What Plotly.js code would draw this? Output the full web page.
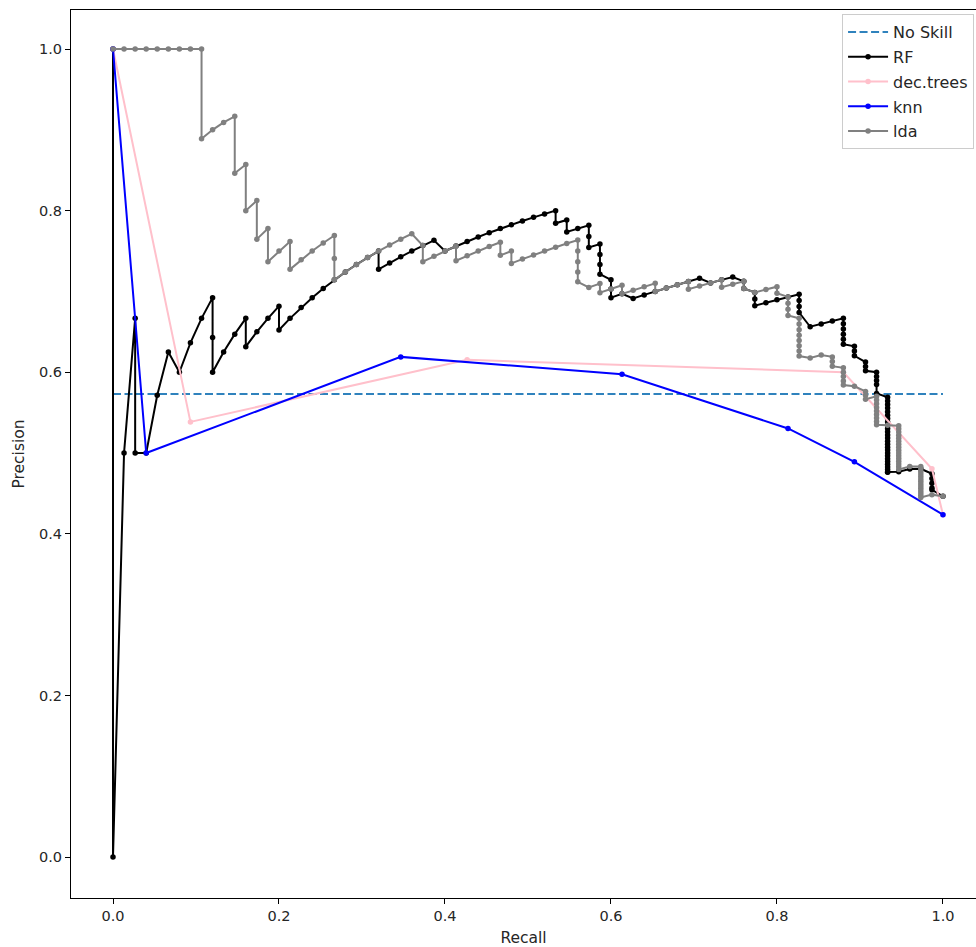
<!DOCTYPE html>
<html>
<head>
<meta charset="utf-8">
<script src="https://cdn.plot.ly/plotly-3.0.1.min.js"></script>
<style>html,body{margin:0;padding:0;background:#fff;}#chart{width:976px;height:947px;}</style>
</head>
<body>
<div id="chart"></div>
<script>
// ---- data ----
const noSkillRecall = [0, 1];
const noSkillPrecision = [0.573, 0.573];

const rfRecall = [0,0,0.0133,0.0267,0.0267,0.04,0.0533,0.0667,0.08,0.0933,0.1067,0.12,0.12,0.12,0.1333,0.1467,0.16,0.16,0.1733,0.1867,0.2,0.2,0.2133,0.2267,0.24,0.2533,0.2667,0.28,0.2933,0.3067,0.32,0.32,0.3333,0.3467,0.36,0.3733,0.3867,0.4,0.4133,0.4267,0.44,0.4533,0.4667,0.48,0.4933,0.5067,0.52,0.5333,0.5333,0.5467,0.5467,0.56,0.5733,0.5733,0.5733,0.5867,0.5867,0.5867,0.5867,0.6,0.6,0.6,0.6133,0.6267,0.64,0.6533,0.6667,0.68,0.6933,0.7067,0.72,0.7333,0.7467,0.76,0.76,0.7733,0.7733,0.7733,0.7867,0.8,0.8133,0.8267,0.8267,0.8267,0.8267,0.84,0.8533,0.8667,0.88,0.88,0.88,0.88,0.88,0.88,0.8933,0.8933,0.8933,0.9067,0.9067,0.9067,0.92,0.92,0.92,0.92,0.92,0.9333,0.9333,0.9333,0.9333,0.9333,0.9333,0.9333,0.9333,0.9333,0.9333,0.9333,0.9333,0.9333,0.9333,0.9333,0.9333,0.9333,0.9333,0.9333,0.9333,0.9333,0.9333,0.9333,0.9333,0.9333,0.9333,0.9467,0.96,0.9733,0.9867,0.9867,0.9867,0.9867,0.9867,1,1];
const rfPrecision = [1,0,0.5,0.6667,0.5,0.5,0.5714,0.625,0.6,0.6364,0.6667,0.6923,0.6429,0.6,0.625,0.6471,0.6667,0.6316,0.65,0.6667,0.6818,0.6522,0.6667,0.68,0.6923,0.7037,0.7143,0.7241,0.7333,0.7419,0.75,0.7273,0.7353,0.7429,0.75,0.7568,0.7632,0.75,0.7561,0.7619,0.7674,0.7727,0.7778,0.7826,0.7872,0.7917,0.7959,0.8,0.7843,0.7885,0.7736,0.7778,0.7818,0.7679,0.7544,0.7586,0.7458,0.7333,0.7213,0.7143,0.7031,0.6923,0.697,0.6912,0.6957,0.7,0.7042,0.7083,0.7123,0.7162,0.7105,0.7143,0.7179,0.7125,0.7037,0.6988,0.6905,0.6824,0.686,0.6897,0.6932,0.6966,0.6889,0.6813,0.6739,0.6563,0.6598,0.6633,0.6667,0.66,0.6535,0.6471,0.6408,0.6346,0.6321,0.6262,0.6204,0.6126,0.6071,0.6018,0.6,0.5948,0.5897,0.5847,0.5738,0.5691,0.5645,0.56,0.5556,0.5512,0.5469,0.5426,0.5385,0.5344,0.5303,0.5263,0.5224,0.5185,0.5147,0.5109,0.5072,0.5036,0.5,0.4965,0.493,0.4895,0.4861,0.4828,0.4795,0.4762,0.4765,0.4768,0.4803,0.4805,0.4744,0.4684,0.4625,0.4568,0.4545,0.4464];

const dtRecall = [0, 0.0933, 0.4267, 0.88, 0.9867, 1];
const dtPrecision = [1, 0.5385, 0.6154, 0.6, 0.4805, 0.4237];

const knnRecall = [0, 0.04, 0.3467, 0.6133, 0.8133, 0.8933, 1];
const knnPrecision = [1, 0.5, 0.619, 0.5974, 0.5304, 0.4891, 0.4237];

const ldaRecall = [0,0.0133,0.0267,0.04,0.0533,0.0667,0.08,0.0933,0.1067,0.1067,0.12,0.1333,0.1467,0.1467,0.16,0.16,0.1733,0.1733,0.1867,0.1867,0.2,0.2133,0.2133,0.2267,0.24,0.2533,0.2667,0.2667,0.2667,0.28,0.2933,0.3067,0.32,0.3333,0.3467,0.36,0.3733,0.3733,0.3867,0.4,0.4133,0.4133,0.4267,0.44,0.4533,0.4667,0.4667,0.48,0.48,0.4933,0.5067,0.52,0.5333,0.5467,0.56,0.56,0.56,0.56,0.56,0.5733,0.5867,0.5867,0.6,0.6133,0.6133,0.6267,0.64,0.6533,0.6533,0.6667,0.68,0.6933,0.6933,0.7067,0.72,0.7333,0.7333,0.7467,0.76,0.76,0.7733,0.7867,0.8,0.8,0.8133,0.8133,0.8133,0.8133,0.8267,0.8267,0.8267,0.8267,0.8267,0.8267,0.8267,0.8267,0.84,0.8533,0.8667,0.8667,0.8667,0.88,0.88,0.88,0.88,0.88,0.8933,0.9067,0.9067,0.9067,0.92,0.92,0.92,0.92,0.92,0.92,0.92,0.92,0.92,0.9333,0.9467,0.9467,0.9467,0.9467,0.9467,0.9467,0.9467,0.9467,0.9467,0.9467,0.9467,0.9467,0.9467,0.9467,0.9467,0.9467,0.96,0.9733,0.9733,0.9733,0.9733,0.9733,0.9733,0.9733,0.9733,0.9733,0.9733,0.9733,0.9733,0.9733,0.9733,0.9867,1];
const ldaPrecision = [1,1,1,1,1,1,1,1,1,0.8889,0.9,0.9091,0.9167,0.8462,0.8571,0.8,0.8125,0.7647,0.7778,0.7368,0.75,0.7619,0.7273,0.7391,0.75,0.76,0.7692,0.7407,0.7143,0.7241,0.7333,0.7419,0.75,0.7576,0.7647,0.7714,0.7568,0.7368,0.7436,0.75,0.7561,0.7381,0.7442,0.75,0.7556,0.7609,0.7447,0.75,0.7347,0.74,0.7451,0.75,0.7547,0.7593,0.7636,0.75,0.7368,0.7241,0.7119,0.7049,0.7097,0.6984,0.7031,0.7077,0.697,0.7015,0.7059,0.7101,0.7,0.7042,0.7083,0.7123,0.7027,0.7067,0.7105,0.7143,0.7051,0.7089,0.7125,0.7037,0.6988,0.7024,0.7059,0.6977,0.6932,0.6854,0.6778,0.6703,0.6667,0.6596,0.6526,0.6458,0.6392,0.6327,0.6263,0.62,0.6176,0.6214,0.619,0.6132,0.6075,0.6055,0.6,0.5946,0.5893,0.5841,0.5826,0.5763,0.5714,0.5667,0.5702,0.5656,0.561,0.5565,0.552,0.5476,0.5433,0.5391,0.5349,0.5344,0.5338,0.5299,0.5259,0.5221,0.5182,0.5145,0.5108,0.5071,0.5035,0.5,0.4965,0.4931,0.4897,0.4863,0.483,0.4797,0.4832,0.4834,0.4803,0.4771,0.474,0.471,0.4679,0.465,0.462,0.4591,0.4563,0.4534,0.4506,0.4479,0.4451,0.4485,0.4464];

const tickValues = [0, 0.2, 0.4, 0.6, 0.8, 1.0];
const tickLabels = ["0.0", "0.2", "0.4", "0.6", "0.8", "1.0"];

// ---- chart ----
const FONT = "DejaVu Sans, Liberation Sans, sans-serif";
const TXT = '#262626';
function series(name, x, y, color, group) {
  return {
    type: 'scatter', mode: 'lines+markers', name: name, x: x, y: y,
    line: {color: color, width: 2}, marker: {color: color, size: 5.5},
    legendgroup: group
  };
}
const traces = [
  {type: 'scatter', mode: 'lines', name: 'No Skill', x: noSkillRecall, y: noSkillPrecision,
   line: {color: '#2f82bd', width: 2, dash: '8px,3.5px'}, legendgroup: 'g0'},
  series('RF', rfRecall, rfPrecision, '#000000', 'g1'),
  series('dec.trees', dtRecall, dtPrecision, '#ffc0cb', 'g2'),
  series('knn', knnRecall, knnPrecision, '#0000ff', 'g3'),
  series('lda', ldaRecall, ldaPrecision, '#808080', 'g4')
];

const axisCommon = {
  showgrid: false, zeroline: false, showline: true, linecolor: '#000', linewidth: 1,
  ticks: 'outside', ticklen: 5, tickwidth: 1, tickcolor: '#000',
  tickvals: tickValues, ticktext: tickLabels,
  tickfont: {family: FONT, size: 14.5, color: TXT}
};

const layout = {
  width: 976, height: 947,
  margin: {l: 71, r: 0, t: 10, b: 49, pad: 0},
  paper_bgcolor: '#fff', plot_bgcolor: '#fff',
  font: {family: FONT, size: 14.5, color: TXT},
  xaxis: Object.assign({}, axisCommon, {
    range: [-0.0506, 1.0398], mirror: true,
    title: {text: 'Recall', font: {family: FONT, size: 15.5, color: TXT}, standoff: 9}
  }),
  yaxis: Object.assign({}, axisCommon, {
    range: [-0.0507, 1.0483], mirror: false,
    title: {text: 'Precision', font: {family: FONT, size: 15.5, color: TXT}, standoff: 10}
  }),
  legend: {
    x: 0.852, y: 0.9955, xanchor: 'left', yanchor: 'top',
    bgcolor: 'rgba(255,255,255,0.85)', bordercolor: '#cccccc', borderwidth: 1,
    font: {family: FONT, size: 16, color: TXT},
    traceorder: 'grouped', tracegroupgap: 1, itemwidth: 40
  },
  showlegend: true
};

Plotly.newPlot('chart', traces, layout, {displayModeBar: false, staticPlot: true});
</script>
</body>
</html>
